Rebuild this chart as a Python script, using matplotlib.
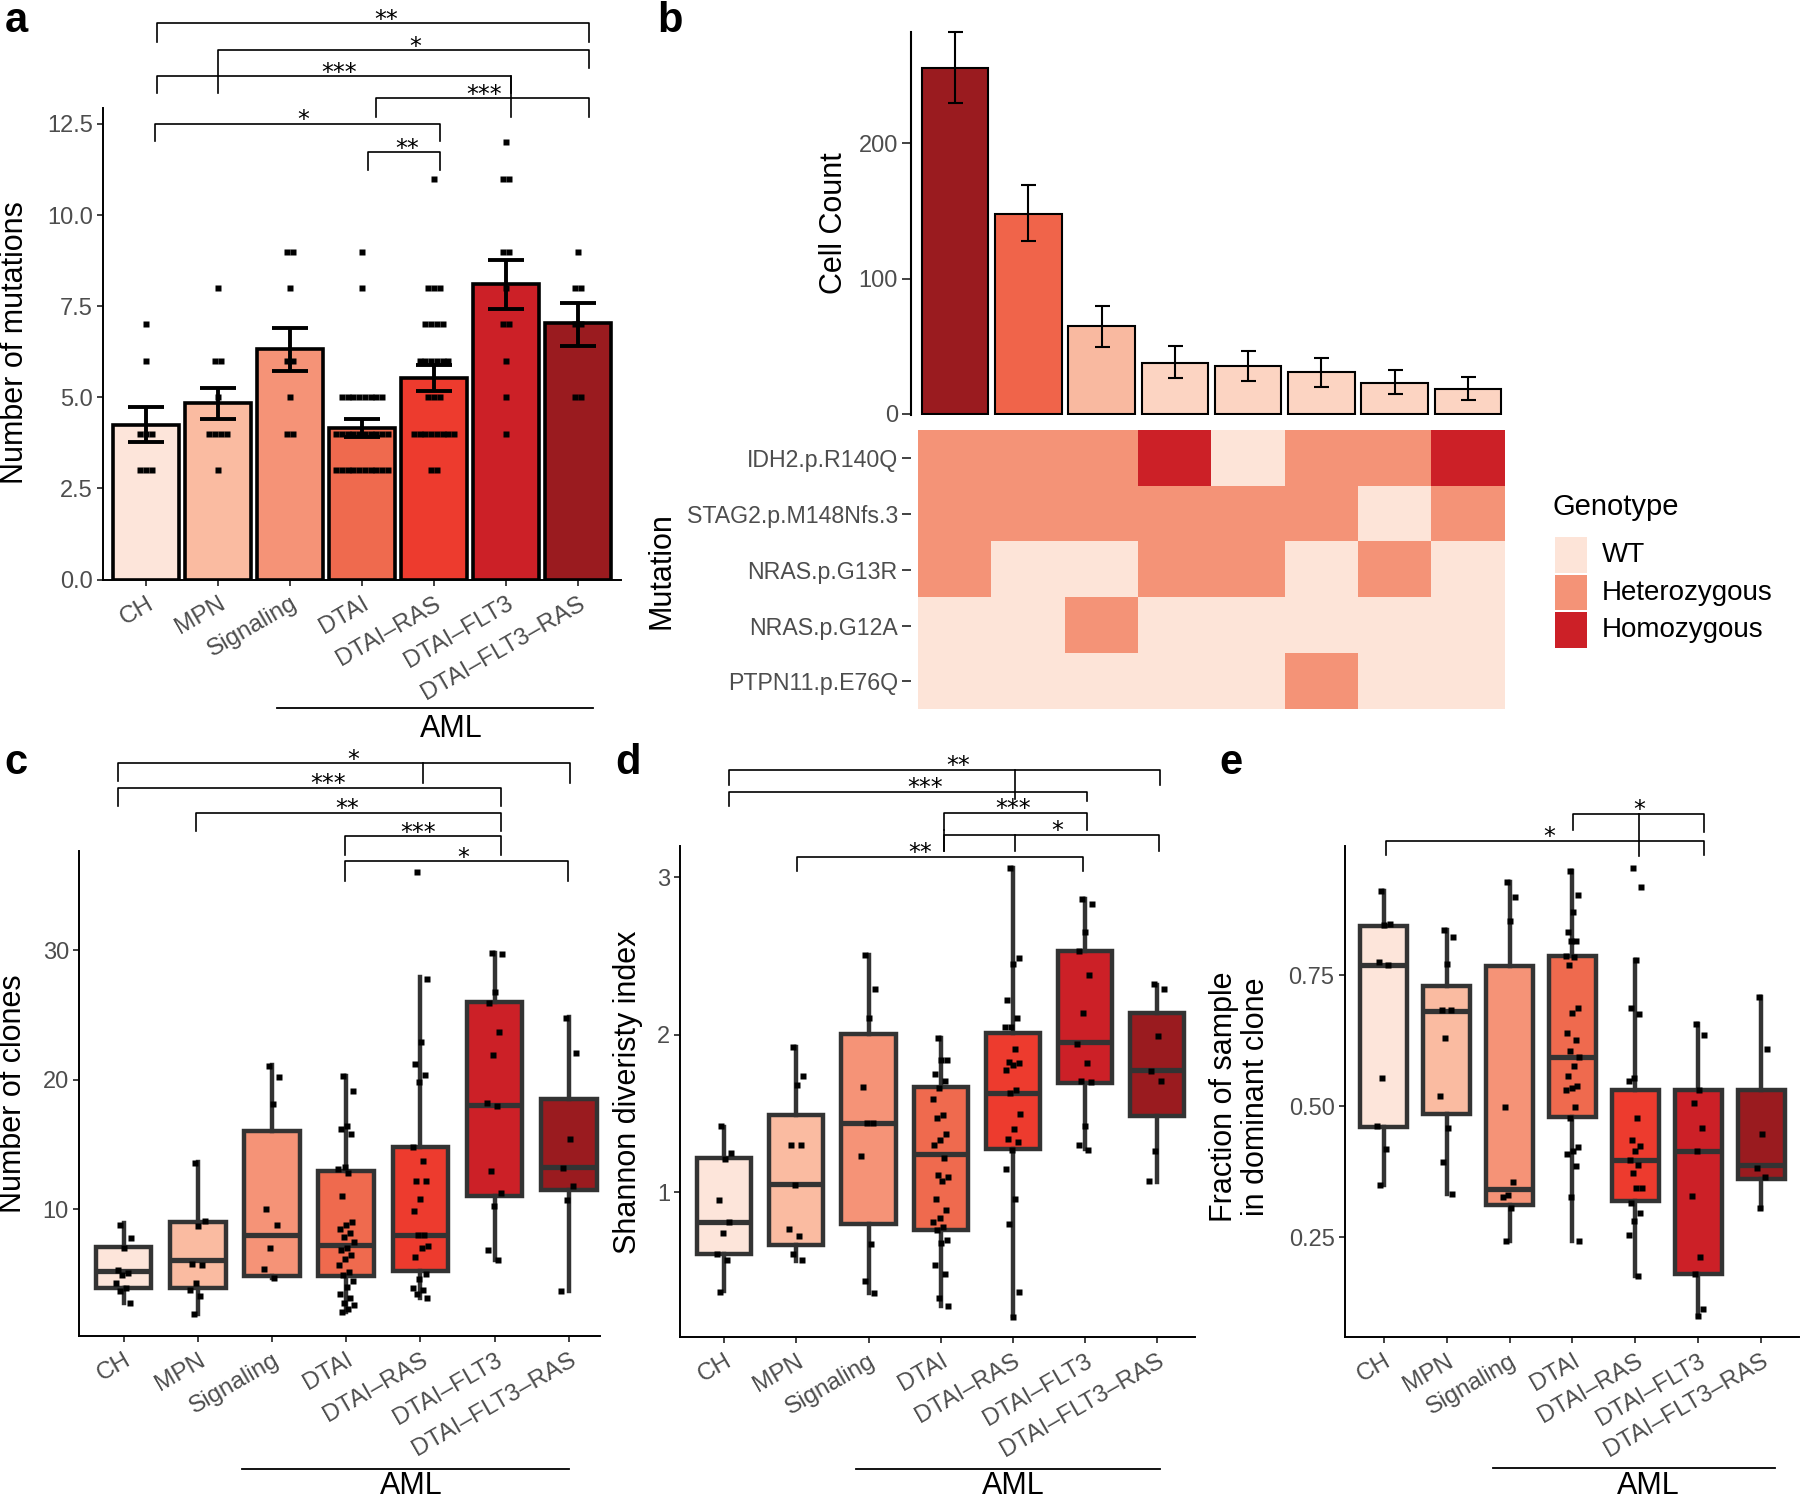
import matplotlib
matplotlib.use('Agg')
import matplotlib.pyplot as plt
import numpy as np
from matplotlib.patches import Rectangle
from matplotlib.colors import ListedColormap

plt.rcParams['font.family'] = ['Liberation Sans', 'DejaVu Sans']

# ---------------- data ----------------
groups = ['CH', 'MPN', 'Signaling', 'DTAI', 'DTAI–RAS', 'DTAI–FLT3', 'DTAI–FLT3–RAS']
group_colors = ['#fde5da', '#fabba1', '#f59377', '#ef6a4e', '#ed3b2e', '#cc2027', '#9a1b1f']

# a: number of mutations (mean +/- se, individual samples)
mut_mean = np.array([4.25, 4.83, 6.32, 4.16, 5.54, 8.10, 7.03])
mut_lo = np.array([3.76, 4.40, 5.71, 3.92, 5.16, 7.42, 6.41])
mut_hi = np.array([4.74, 5.25, 6.90, 4.40, 5.89, 8.76, 7.59])
mut_points = [
    [7, 6, 4, 4, 3, 3, 3, 4],
    [8, 6, 6, 5, 4, 4, 4, 4, 3],
    [9, 9, 8, 6, 6, 5, 4, 4],
    [9, 8] + [5] * 8 + [4] * 10 + [3] * 10,
    [11, 8, 8, 8, 7, 7, 7, 7, 6, 6, 6, 6, 6, 6, 5, 5, 5] + [4] * 8 + [3, 3],
    [12, 11, 11, 9, 9, 8, 7, 7, 6, 5, 4],
    [9, 8, 8, 7, 7, 5, 5],
]

# b: clone cell counts and genotypes
clone_count = np.array([255.6, 148.0, 64.6, 37.4, 35.4, 30.5, 22.8, 18.6])
clone_lo = np.array([230.0, 127.5, 49.6, 26.3, 24.2, 20.0, 14.4, 9.8])
clone_hi = np.array([282.5, 169.0, 80.0, 50.4, 46.2, 41.3, 32.2, 27.4])
clone_colors = ['#9a1b1f', '#f0644a', '#f9b9a0', '#fcd4c2', '#fcd4c2', '#fcd4c2', '#fcd4c2', '#fcd4c2']
mutations = ['IDH2.p.R140Q', 'STAG2.p.M148Nfs.3', 'NRAS.p.G13R', 'NRAS.p.G12A', 'PTPN11.p.E76Q']
genotypes = ['WT', 'Heterozygous', 'Homozygous']
geno_colors = ['#fde4d8', '#f49377', '#cc2027']
geno_matrix = [
    ['Heterozygous', 'Heterozygous', 'Heterozygous', 'Homozygous', 'WT', 'Heterozygous', 'Heterozygous', 'Homozygous'],
    ['Heterozygous', 'Heterozygous', 'Heterozygous', 'Heterozygous', 'Heterozygous', 'Heterozygous', 'WT', 'Heterozygous'],
    ['Heterozygous', 'WT', 'WT', 'Heterozygous', 'Heterozygous', 'WT', 'Heterozygous', 'WT'],
    ['WT', 'WT', 'Heterozygous', 'WT', 'WT', 'WT', 'WT', 'WT'],
    ['WT', 'WT', 'WT', 'WT', 'WT', 'Heterozygous', 'WT', 'WT'],
]

# c: number of clones (box stats + samples)
clo_q1 = [3.9, 3.9, 4.83, 4.83, 5.21, 11.01, 11.5]
clo_med = [5.28, 6.07, 8.01, 7.27, 8.0, 18.05, 13.26]
clo_q3 = [7.08, 9.03, 16.07, 13.0, 14.83, 25.99, 18.5]
clo_lo = [2.77, 1.91, 4.7, 2.1, 3.15, 6.07, 3.7]
clo_hi = [8.95, 13.63, 21.12, 20.3, 27.9, 29.8, 24.87]
clo_points = [
    [8.8, 7.8, 7.0, 5.3, 5.1, 4.9, 4.3, 3.9, 3.7, 2.8],
    [13.6, 9.1, 8.7, 5.8, 5.7, 4.3, 3.8, 3.3, 1.9],
    [21.1, 20.2, 18.1, 10.0, 8.8, 7.0, 5.4, 4.7],
    [20.3, 19.1, 16.4, 16.2, 15.8, 13.3, 13.1, 12.8, 11.0, 9.0, 8.8, 8.5, 8.2, 7.9, 7.5,
     7.0, 6.9, 6.5, 6.2, 5.7, 5.2, 4.9, 4.5, 4.0, 3.5, 3.2, 2.8, 2.6, 2.3, 2.1],
    [36.0, 27.8, 22.9, 21.2, 20.4, 19.8, 14.8, 13.7, 12.2, 12.2, 10.8, 9.9, 8.0, 8.0, 7.2,
     7.0, 6.3, 5.0, 4.6, 3.9, 3.8, 3.5, 3.2],
    [29.8, 29.7, 26.8, 25.9, 23.7, 21.9, 18.2, 18.0, 13.0, 11.3, 10.3, 6.9, 6.1],
    [24.8, 22.1, 15.4, 13.2, 11.8, 10.7, 3.7],
]

# d: Shannon diversity
sha_q1 = [0.606, 0.667, 0.80, 0.76, 1.274, 1.693, 1.484]
sha_med = [0.812, 1.052, 1.44, 1.243, 1.632, 1.955, 1.777]
sha_q3 = [1.216, 1.493, 2.008, 1.669, 2.014, 2.532, 2.14]
sha_lo = [0.374, 0.565, 0.36, 0.276, 0.214, 1.274, 1.068]
sha_hi = [1.416, 1.921, 2.51, 1.977, 3.06, 2.861, 2.316]
sha_points = [
    [1.42, 1.25, 1.21, 0.95, 0.81, 0.74, 0.61, 0.57, 0.37],
    [1.92, 1.74, 1.68, 1.30, 1.30, 1.05, 0.77, 0.72, 0.61, 0.57],
    [2.51, 2.29, 2.11, 1.67, 1.44, 1.44, 1.23, 0.67, 0.44, 0.36],
    [1.98, 1.84, 1.84, 1.75, 1.71, 1.66, 1.59, 1.49, 1.47, 1.37, 1.33, 1.30, 1.22, 1.11,
     1.10, 1.07, 0.96, 0.89, 0.84, 0.81, 0.78, 0.76, 0.70, 0.68, 0.54, 0.48, 0.33, 0.28],
    [3.06, 2.49, 2.45, 2.22, 2.11, 2.05, 2.05, 1.91, 1.83, 1.82, 1.81, 1.78, 1.65, 1.63,
     1.50, 1.40, 1.34, 1.32, 1.27, 1.15, 0.96, 0.80, 0.37, 0.21],
    [2.86, 2.83, 2.65, 2.53, 2.38, 2.14, 1.94, 1.82, 1.71, 1.70, 1.42, 1.30, 1.27],
    [2.32, 2.29, 1.99, 1.77, 1.71, 1.26, 1.07],
]

# e: fraction of sample in dominant clone
dom_q1 = [0.461, 0.486, 0.312, 0.48, 0.319, 0.18, 0.361]
dom_med = [0.769, 0.682, 0.343, 0.595, 0.398, 0.415, 0.389]
dom_q3 = [0.844, 0.73, 0.767, 0.787, 0.532, 0.532, 0.532]
dom_lo = [0.35, 0.333, 0.243, 0.243, 0.176, 0.10, 0.306]
dom_hi = [0.91, 0.836, 0.928, 0.949, 0.78, 0.657, 0.708]
dom_points = [
    [0.91, 0.847, 0.845, 0.775, 0.769, 0.554, 0.463, 0.419, 0.35],
    [0.836, 0.823, 0.772, 0.683, 0.683, 0.63, 0.519, 0.458, 0.394, 0.333],
    [0.928, 0.90, 0.854, 0.498, 0.355, 0.331, 0.327, 0.307, 0.243],
    [0.949, 0.903, 0.87, 0.833, 0.815, 0.815, 0.787, 0.785, 0.769, 0.687, 0.679, 0.639,
     0.627, 0.606, 0.595, 0.577, 0.557, 0.539, 0.535, 0.531, 0.498, 0.477, 0.423, 0.414,
     0.409, 0.387, 0.327, 0.243],
    [0.954, 0.919, 0.78, 0.687, 0.676, 0.554, 0.549, 0.477, 0.435, 0.424, 0.414, 0.398,
     0.389, 0.372, 0.345, 0.345, 0.315, 0.296, 0.282, 0.255, 0.176],
    [0.657, 0.637, 0.532, 0.506, 0.458, 0.415, 0.329, 0.213, 0.18, 0.113, 0.10],
    [0.708, 0.609, 0.447, 0.382, 0.366, 0.306],
]

# significance brackets: (x1, x2, y, tip1, tip2, label, label_x) and extra legs (x, y1, y2)
a_sig = [(0.15, 6.15, 15.26, 14.74, 14.74, '**', 3.33),
         (1.0, 6.15, 14.52, 13.34, 14.03, '*', 3.74),
         (0.15, 5.07, 13.81, 13.34, 13.34, '***', 2.68),
         (3.2, 6.15, 13.21, 12.70, 12.70, '***', 4.7),
         (0.12, 4.08, 12.50, 12.02, 12.02, '*', 2.19),
         (3.08, 4.08, 11.73, 11.24, 11.24, '**', 3.63)]
a_legs = [(5.07, 13.81, 12.70)]
c_sig = [(-0.08, 6.02, 44.42, 43.03, 42.92, '*', 3.09),
         (-0.08, 5.08, 42.55, 41.16, 41.16, '***', 2.75),
         (0.97, 5.08, 40.6, 39.18, 39.18, '**', 3.02),
         (2.99, 5.08, 38.8, 37.34, 37.34, '***', 3.97),
         (2.99, 5.99, 36.85, 35.36, 35.36, '*', 4.58)]
c_legs = [(4.04, 44.42, 42.92)]
d_sig = [(0.06, 6.05, 3.681, 3.586, 3.586, '**', 3.24),
         (0.06, 5.03, 3.542, 3.45, 3.487, '***', 2.79),
         (3.05, 5.03, 3.41, 3.30, 3.30, '***', 4.01),
         (3.05, 6.03, 3.27, 3.17, 3.17, '*', 4.62),
         (1.01, 4.98, 3.13, 3.04, 3.04, '**', 2.72)]
d_legs = [(4.03, 3.681, 3.50), (4.03, 3.27, 3.17), (3.05, 3.30, 3.17)]
e_sig = [(3.01, 5.09, 1.058, 1.028, 1.023, '*', 4.06),
         (0.03, 5.09, 1.007, 0.98, 0.98, '*', 2.63)]
e_legs = [(4.06, 1.058, 0.977)]

# ---------------- figure ----------------
W, H = 1800, 1501
fig = plt.figure(figsize=(W / 100, H / 100), dpi=100)
TICK = '#4d4d4d'
TS = 17


def add_ax(l, t, r, b):
    return fig.add_axes([l / W, 1 - b / H, (r - l) / W, (b - t) / H])


def ftext(x, y, s, **kw):
    return fig.text(x / W, 1 - y / H, s, **kw)


def fline(x1, x2, y):
    fig.add_artist(plt.Line2D([x1 / W, x2 / W], [1 - y / H, 1 - y / H],
                              color='black', lw=1.3, transform=fig.transFigure))


def spread(n, w):
    return ((np.arange(n) * 0.618034 + 0.31) % 1 - 0.5) * 2 * w


def level_spread(vals, step=0.08):
    # points sharing a value are laid side by side around the group centre
    vals = np.asarray(vals, dtype=float)
    off = np.zeros(len(vals))
    for v in np.unique(vals):
        idx = np.where(vals == v)[0]
        k = len(idx)
        off[idx] = (np.arange(k) - (k - 1) / 2) * step
    return off


def style(ax, ticklen=4.3):
    for s in ['top', 'right']:
        ax.spines[s].set_visible(False)
    for s in ['left', 'bottom']:
        ax.spines[s].set_linewidth(1.4)
    ax.tick_params(length=ticklen, width=1.3, color='#333333', labelsize=TS,
                   labelcolor=TICK, pad=3)


def cat_x(ax):
    ax.set_xticks(range(len(groups)))
    ax.set_xticklabels(groups, rotation=30, ha='right', rotation_mode='anchor')
    ax.tick_params(axis='x', pad=5, labelsize=17.5)


def brackets(ax, specs, legs):
    for x1, x2, y, t1, t2, lab, lx in specs:
        ax.plot([x1, x1, x2, x2], [t1, y, y, t2], color='black', lw=1.2, clip_on=False)
        ax.annotate(lab, (lx, y), xytext=(0, -2.5), textcoords='offset points',
                    ha='center', va='baseline', fontsize=17, family='DejaVu Sans',
                    annotation_clip=False)
    for lx, y1, y2 in legs:
        ax.plot([lx, lx], [y1, y2], color='black', lw=1.2, clip_on=False)


def box_panel(ax, q1, med, q3, lo, hi, pts):
    stats = [dict(q1=a, med=m, q3=b, whislo=l, whishi=h)
             for a, m, b, l, h in zip(q1, med, q3, lo, hi)]
    bp = ax.bxp(stats, positions=range(len(stats)), widths=0.75, showfliers=False,
                showcaps=False, patch_artist=True,
                boxprops=dict(edgecolor='#333333', linewidth=3.2),
                whiskerprops=dict(color='#333333', linewidth=3.2),
                medianprops=dict(color='#333333', linewidth=3.8))
    for patch, col in zip(bp['boxes'], group_colors):
        patch.set_facecolor(col)
    for i, p in enumerate(pts):
        ax.plot(i + spread(len(p), 0.11), p, 's', color='black', ms=4.0, mec='none', zorder=5)


# ----- panel a -----
ax = add_ax(103, 107.6, 621, 579.5)
xa = np.arange(len(groups))
ax.bar(xa, mut_mean, width=0.92, color=group_colors, edgecolor='black', linewidth=2.6, zorder=2)
for i, p in enumerate(mut_points):
    ax.plot(i + level_spread(p), p, 's', color='black', ms=4.0, mec='none', zorder=3)
ax.errorbar(xa, mut_mean, yerr=[mut_mean - mut_lo, mut_hi - mut_mean], fmt='none',
            ecolor='black', elinewidth=2.8, capsize=12.8, capthick=2.8, zorder=4)
ax.set_xlim(-0.6, 6.6)
ax.set_ylim(0, 12.95)
ax.set_yticks(np.arange(0, 12.6, 2.5), ['%.1f' % v for v in np.arange(0, 12.6, 2.5)])
style(ax)
cat_x(ax)
brackets(ax, a_sig, a_legs)
ftext(15, 343, 'Number of mutations', fontsize=22, rotation=90, ha='center', va='center')
fline(277, 593, 708)
ftext(451, 729, 'AML', fontsize=22, ha='center', va='center')
ftext(5, 32, 'a', fontsize=30, fontweight='bold', va='baseline')

# ----- panel b: bars -----
axb = add_ax(911, 32, 1512, 415.3)
xb = np.arange(len(clone_count))
axb.bar(xb, clone_count, width=0.91, color=clone_colors, edgecolor='black', linewidth=1.5)
axb.errorbar(xb, clone_count, yerr=[clone_count - clone_lo, clone_hi - clone_count], fmt='none',
             ecolor='black', elinewidth=1.5, capsize=5.4, capthick=1.5, clip_on=False)
axb.set_xlim(-0.6, 7.6)
axb.set_ylim(-1.2, 282.5)
axb.set_yticks([0, 100, 200])
style(axb, ticklen=6.5)
axb.spines['bottom'].set_visible(False)
axb.spines['left'].set_linewidth(1.5)
axb.set_xticks([])
ftext(834, 223, 'Cell Count', fontsize=22, rotation=90, ha='center', va='center')
ftext(657, 32, 'b', fontsize=30, fontweight='bold', va='baseline')

# ----- panel b: genotype heatmap -----
axh = add_ax(911, 430.4, 1504.8, 709.3)
code = {g: i for i, g in enumerate(genotypes)}
grid = np.array([[code[g] for g in row] for row in geno_matrix])
axh.imshow(grid, cmap=ListedColormap(geno_colors), vmin=-0.5, vmax=2.5, aspect='auto',
           interpolation='nearest', extent=(-0.5, 7.5, len(mutations) - 0.5, -0.5))
axh.set_xlim(-0.6, 7.5)
axh.set_ylim(len(mutations) - 0.5, -0.5)
axh.set_yticks(range(len(mutations)), mutations)
axh.set_xticks([])
for s in axh.spines.values():
    s.set_visible(False)
axh.tick_params(axis='y', length=6.5, width=1.3, color='#333333', labelsize=16.7,
                labelcolor=TICK, pad=3)
ftext(661, 571, 'Mutation', fontsize=22, rotation=90, ha='center', va='center')

ftext(1553, 507, 'Genotype', fontsize=21, va='center')
for i, (lab, col) in enumerate(zip(genotypes, geno_colors)):
    top = 537 + 37.5 * i
    fig.add_artist(Rectangle((1555 / W, 1 - (top + 35.5) / H), 32 / W, 35.5 / H,
                             transform=fig.transFigure, facecolor=col, edgecolor='none'))
    ftext(1602, top + 18, lab, fontsize=20, va='center')

# ----- panel c -----
axc = add_ax(79, 850.7, 600, 1336)
box_panel(axc, clo_q1, clo_med, clo_q3, clo_lo, clo_hi, clo_points)
axc.set_xlim(-0.6, 6.42)
axc.set_ylim(0.23, 37.68)
axc.set_yticks([10, 20, 30])
style(axc)
cat_x(axc)
brackets(axc, c_sig, c_legs)
ftext(13, 1094, 'Number of clones', fontsize=22, rotation=90, ha='center', va='center')
fline(242, 569, 1469)
ftext(411, 1494, 'AML', fontsize=22, ha='center', va='baseline')
ftext(4, 774, 'c', fontsize=30, fontweight='bold', va='baseline')

# ----- panel d -----
axd = add_ax(680.4, 845.8, 1195, 1337)
box_panel(axd, sha_q1, sha_med, sha_q3, sha_lo, sha_hi, sha_points)
axd.set_xlim(-0.61, 6.53)
axd.set_ylim(0.082, 3.2)
axd.set_yticks([1, 2, 3])
style(axd)
cat_x(axd)
brackets(axd, d_sig, d_legs)
ftext(628, 1092, 'Shannon diveristy index', fontsize=22, rotation=90, ha='center', va='center')
fline(856, 1160, 1469)
ftext(1013, 1494, 'AML', fontsize=22, ha='center', va='baseline')
ftext(615, 774, 'd', fontsize=30, fontweight='bold', va='baseline')

# ----- panel e -----
axe = add_ax(1344.7, 845.8, 1798.9, 1337)
box_panel(axe, dom_q1, dom_med, dom_q3, dom_lo, dom_hi, dom_points)
axe.set_xlim(-0.62, 6.6)
axe.set_ylim(0.06, 0.997)
axe.set_yticks([0.25, 0.5, 0.75], ['0.25', '0.50', '0.75'])
style(axe)
cat_x(axe)
brackets(axe, e_sig, e_legs)
ftext(1240, 1097, 'Fraction of sample\nin dominant clone', fontsize=22, rotation=90,
      ha='center', va='center', multialignment='center', linespacing=1.07)
fline(1493, 1775, 1468)
ftext(1648, 1494, 'AML', fontsize=22, ha='center', va='baseline')
ftext(1219, 774, 'e', fontsize=30, fontweight='bold', va='baseline')

fig.savefig('out.png', dpi=100)
